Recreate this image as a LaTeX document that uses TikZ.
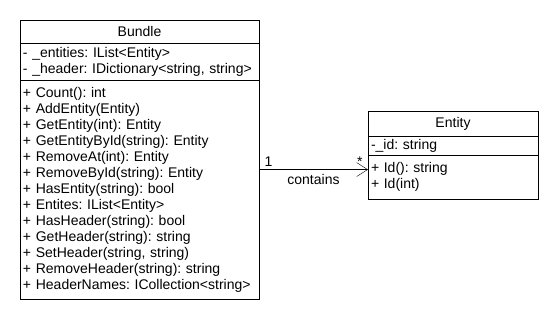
\documentclass[tikz,border=0pt]{standalone}
\usepackage{fontspec}
\setmainfont{Liberation Sans}
\usetikzlibrary{positioning,arrows.meta}
\tikzset{>={Straight Barb[length=11pt,width=14pt]}}
\frenchspacing

\begin{document}
\begin{tikzpicture}[x=1pt, y=1pt, node distance=0pt,
    umlname/.style={draw, anchor=north west, inner sep=0pt, outer sep=0pt, align=center,
      font=\fontsize{14}{16}\selectfont},
    umlpart/.style={draw, inner xsep=3pt, inner ysep=0pt, outer sep=0pt, align=left,
      font=\fontsize{14}{16}\selectfont}]

      \useasboundingbox (0,0) rectangle (560,-320);

      % class Bundle
      \node[umlname, minimum width=239pt, minimum height=23pt] (bundle) at (20,-20) {Bundle};
      \node[umlpart, text width=233pt, minimum height=37pt, below=of bundle] (bundleattr)
        {- \_entities: IList<Entity>\\
         - \_header: IDictionary<string, string>};
      \node[umlpart, text width=233pt, minimum height=219pt, below=of bundleattr] (bundleops)
        {+ Count(): int\\
         + AddEntity(Entity)\\
         + GetEntity(int): Entity\\
         + GetEntityById(string): Entity\\
         + RemoveAt(int): Entity\\
         + RemoveById(string): Entity\\
         + HasEntity(string): bool\\
         + Entites: IList<Entity>\\
         + HasHeader(string): bool\\
         + GetHeader(string): string\\
         + SetHeader(string, string)\\
         + RemoveHeader(string): string\\
         + HeaderNames: ICollection<string>};

      % class Entity
      \node[umlname, minimum width=170pt, minimum height=25pt] (entity) at (368,-111) {Entity};
      \node[umlpart, text width=164pt, minimum height=19pt, below=of entity] (entityattr)
        {-\_id: string};
      \node[umlpart, text width=164pt, minimum height=44pt, below=of entityattr] (entityops)
        {+ Id(): string\\
         + Id(int)};

      % association
      \draw[->, font=\fontsize{14}{16}\selectfont] (entityops.175 -| bundleops.east) -- (entityops.175)
        node[pos=0, above right, xshift=2pt] {1}
        node[pos=1, above left, xshift=-2pt] {*}
        node[midway, below, yshift=-1pt] {contains};

\end{tikzpicture}
\end{document}
